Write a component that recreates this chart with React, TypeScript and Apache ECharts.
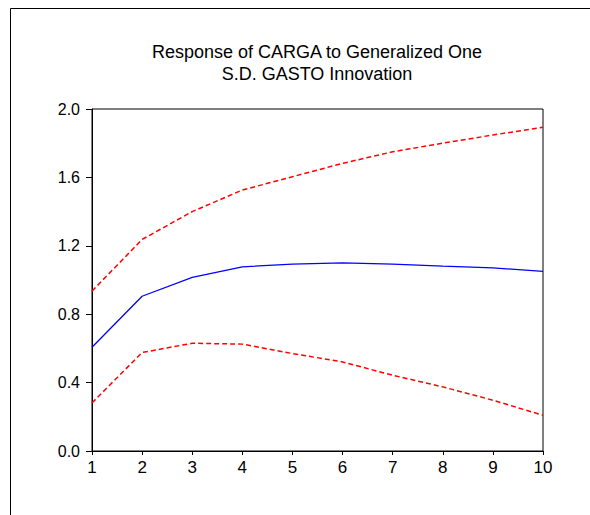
import React, { useEffect, useRef } from "react";
import * as echarts from "echarts";

const periods = [1, 2, 3, 4, 5, 6, 7, 8, 9, 10];
const response = [0.607, 0.905, 1.015, 1.077, 1.093, 1.1, 1.093, 1.081, 1.071, 1.05];
const upperBand = [0.935, 1.237, 1.4, 1.526, 1.604, 1.682, 1.75, 1.8, 1.848, 1.893];
const lowerBand = [0.281, 0.576, 0.63, 0.625, 0.57, 0.521, 0.443, 0.375, 0.297, 0.209];
const titleLines = ["Response of CARGA to Generalized One", "S.D. GASTO Innovation"];

const FONT = "'Liberation Sans', Arial, sans-serif";

export default function App() {
  const ref = useRef<HTMLDivElement>(null);
  useEffect(() => {
    if (!ref.current) return;
    const chart = echarts.init(ref.current, null, { renderer: "svg" });
    const pairs = (vals: number[]) => periods.map((p, i) => [p, vals[i]]);
    chart.setOption({
      animation: false,
      backgroundColor: "#ffffff",
      grid: {
        left: 92,
        top: 109,
        right: 47,
        bottom: 64,
        show: true,
        borderColor: "#000",
        borderWidth: 1,
        backgroundColor: "transparent",
      },
      graphic: [
        {
          type: "rect",
          shape: { x: 10.5, y: 8.5, width: 700, height: 700 },
          style: { fill: "none", stroke: "#000", lineWidth: 1 },
          silent: true,
        },
        {
          type: "text",
          x: 317,
          y: 52,
          style: {
            text: titleLines[0],
            font: `18px ${FONT}`,
            fill: "#000",
            align: "center",
            verticalAlign: "middle",
          },
        },
        {
          type: "text",
          x: 317,
          y: 74,
          style: {
            text: titleLines[1],
            font: `18px ${FONT}`,
            fill: "#000",
            align: "center",
            verticalAlign: "middle",
          },
        },
      ],
      xAxis: {
        type: "value",
        min: 1,
        max: 10,
        interval: 1,
        axisLine: { show: true, lineStyle: { color: "#000", width: 1 } },
        axisTick: { show: true, length: 4, lineStyle: { color: "#000" } },
        axisLabel: {
          color: "#000",
          fontSize: 17,
          fontFamily: FONT,
          margin: 8,
        },
        splitLine: { show: false },
      },
      yAxis: {
        type: "value",
        min: 0,
        max: 2,
        interval: 0.4,
        axisLine: { show: true, lineStyle: { color: "#000", width: 1 } },
        axisTick: { show: true, length: 6, lineStyle: { color: "#000" } },
        axisLabel: {
          color: "#000",
          fontSize: 16,
          fontFamily: FONT,
          margin: 12,
          formatter: (v: number) => v.toFixed(1),
        },
        splitLine: { show: false },
      },
      series: [
        {
          type: "line",
          data: pairs(upperBand),
          symbol: "none",
          lineStyle: { color: "#ff0000", width: 1.5, type: [5, 3] },
        },
        {
          type: "line",
          data: pairs(response),
          symbol: "none",
          lineStyle: { color: "#0000ff", width: 1.3 },
        },
        {
          type: "line",
          data: pairs(lowerBand),
          symbol: "none",
          lineStyle: { color: "#ff0000", width: 1.5, type: [5, 3] },
        },
      ],
    });
    return () => chart.dispose();
  }, []);
  return (
    <div
      ref={ref}
      style={{ position: "fixed", left: 0, top: 0, width: 590, height: 515 }}
    />
  );
}
